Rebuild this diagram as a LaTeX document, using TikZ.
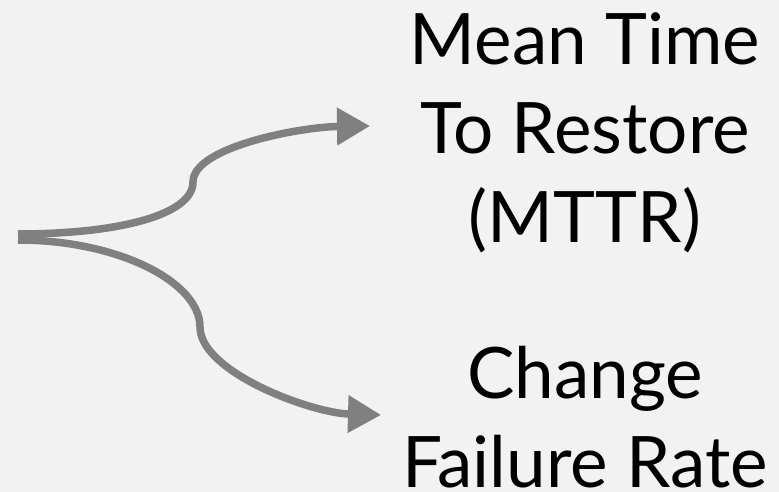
\documentclass[tikz,border=0pt]{standalone}
\usepackage{fontspec}
\setmainfont{Lato}
\usetikzlibrary{arrows.meta}
\definecolor{bg}{HTML}{F2F2F2}
\definecolor{ar}{HTML}{808080}

\begin{document}
\begin{tikzpicture}
   [x=1pt,y=-1pt,every node/.style={align=center,inner sep=0pt,font=\fontsize{71}{89}\selectfont},
    branch/.style={draw=ar,line width=7.5pt,-{Triangle[length=33pt,width=36pt]}}]

  \fill[bg] (0,0) rectangle (779,492);
  \useasboundingbox (0,0) rectangle (779,492);

  \node[anchor=base](mttr) at (585,242) {Mean Time\\To Restore\\(MTTR)};
  \node[anchor=base](cfr) at (585,487) {Change\\Failure Rate};

  \coordinate (src) at (18,237);
  \coordinate (k1) at (193,182);
  \coordinate (k2) at (200,327);
  \coordinate (tip1) at (370,126);
  \coordinate (tip2) at (381,415);

  \draw[branch] ([yshift=3pt]src) .. controls +(100,0) and +(0,33) .. (k1)
     .. controls +(0,-35) and +(-70,1) .. (tip1);
  \draw[branch] ([yshift=-3pt]src) .. controls +(100,0) and +(0,-45) .. (k2)
     .. controls +(0,45) and +(-70,-2) .. (tip2);

\end{tikzpicture}
\end{document}
